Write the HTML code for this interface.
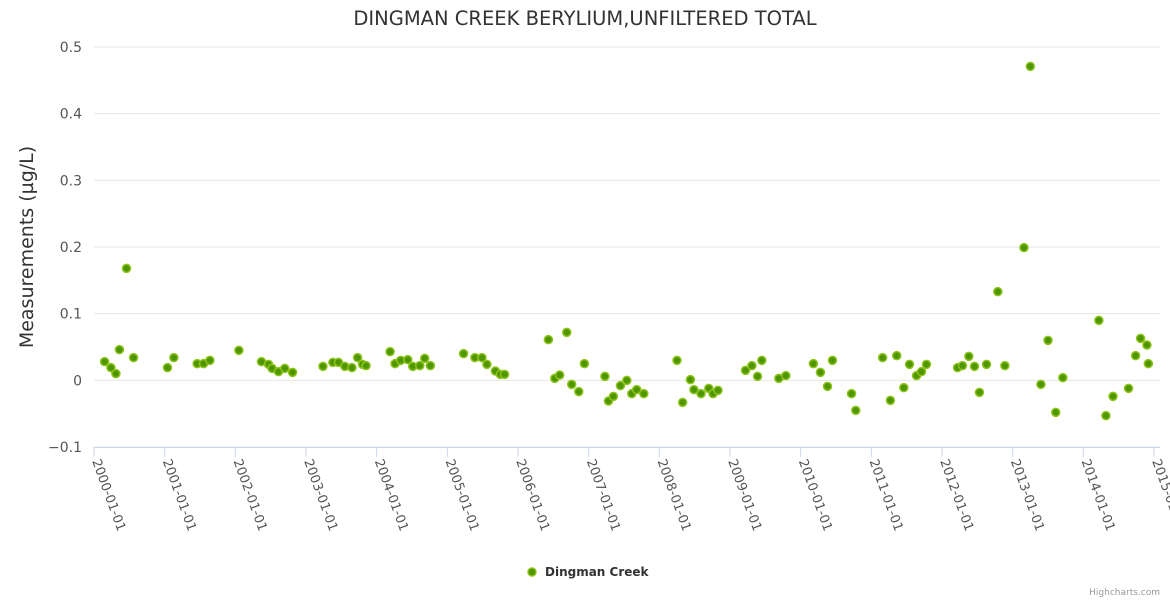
<!DOCTYPE html>
<html><head><meta charset="utf-8"><style>
body{margin:0;background:#fff;font-family:"DejaVu Sans","Liberation Sans",sans-serif;}
svg text{font-family:"DejaVu Sans","Liberation Sans",sans-serif;}
</style></head><body>
<svg id="chart" width="1170" height="600" xmlns="http://www.w3.org/2000/svg">
<text x="585" y="25" text-anchor="middle" font-size="19.5" fill="#333">DINGMAN CREEK BERYLIUM,UNFILTERED TOTAL</text>
<text transform="translate(33,247) rotate(-90)" text-anchor="middle" font-size="19" fill="#333">Measurements (µg/L)</text>
<g id="grid"></g><g id="xaxis"></g><g id="pts"></g>
<g>
<circle cx="532" cy="572" r="4" fill="#4f9600" stroke="#8cc41a" stroke-width="1.5"/>
<text x="545" y="576" font-size="12" font-weight="bold" fill="#333">Dingman Creek</text></g>
<text x="1160" y="595" text-anchor="end" font-size="9" fill="#999">Highcharts.com</text>
</svg>
<script>
const years=[2000.15,2000.24,2000.31,2000.36,2000.46,2000.56,2001.04,2001.13,2001.46,2001.55,2001.64,2002.05,2002.37,2002.47,2002.52,2002.61,2002.70,2002.81,2003.24,2003.38,2003.46,2003.55,2003.65,2003.73,2003.80,2003.85,2004.19,2004.26,2004.34,2004.44,2004.51,2004.61,2004.68,2004.76,2005.23,2005.39,2005.49,2005.56,2005.68,2005.75,2005.81,2006.43,2006.52,2006.59,2006.69,2006.76,2006.86,2006.94,2007.23,2007.28,2007.35,2007.45,2007.54,2007.61,2007.68,2007.78,2008.25,2008.33,2008.44,2008.49,2008.59,2008.70,2008.76,2008.83,2009.22,2009.31,2009.39,2009.45,2009.69,2009.79,2010.18,2010.28,2010.38,2010.45,2010.72,2010.78,2011.16,2011.27,2011.36,2011.46,2011.54,2011.64,2011.71,2011.78,2012.22,2012.29,2012.38,2012.46,2012.53,2012.63,2012.79,2012.89,2013.16,2013.25,2013.40,2013.50,2013.61,2013.71,2014.22,2014.32,2014.42,2014.64,2014.74,2014.81,2014.90,2014.92];
const values=[0.028,0.019,0.010,0.046,0.168,0.034,0.019,0.034,0.025,0.025,0.030,0.045,0.028,0.024,0.018,0.013,0.018,0.012,0.021,0.027,0.027,0.021,0.019,0.034,0.024,0.022,0.043,0.025,0.030,0.031,0.021,0.022,0.033,0.022,0.040,0.034,0.034,0.024,0.014,0.009,0.009,0.061,0.003,0.008,0.072,-0.006,-0.017,0.025,0.006,-0.031,-0.024,-0.008,0.000,-0.020,-0.014,-0.020,0.030,-0.033,0.001,-0.014,-0.020,-0.012,-0.020,-0.015,0.015,0.022,0.006,0.030,0.003,0.007,0.025,0.012,-0.009,0.030,-0.020,-0.045,0.034,-0.030,0.037,-0.011,0.024,0.007,0.013,0.024,0.019,0.022,0.036,0.021,-0.018,0.024,0.133,0.022,0.199,0.471,-0.006,0.060,-0.048,0.004,0.090,-0.053,-0.024,-0.012,0.037,0.063,0.053,0.025];
const yTicks=[-0.1,0,0.1,0.2,0.3,0.4,0.5];
const xTickYears=[2000,2001,2002,2003,2004,2005,2006,2007,2008,2009,2010,2011,2012,2013,2014,2015];
const NS='http://www.w3.org/2000/svg';
const xs=y=>94+(y-2000)*(1060/15);
const ys=v=>447-(v+0.1)*(400/0.6);
function mk(t,a,p){const e=document.createElementNS(NS,t);for(const k in a)e.setAttribute(k,a[k]);p.appendChild(e);return e;}
const grid=document.getElementById('grid');
yTicks.forEach(v=>{
  const l=mk('line',{x1:94,x2:1160,y1:ys(v),y2:ys(v),stroke:'#e6e6e6','stroke-width':1},grid);
  
  
  const t=mk('text',{x:82,y:ys(v)+5,'text-anchor':'end','font-size':14,fill:'#555'},grid);
  t.textContent=v===0?'0':(v<0?'−'+Math.abs(v):String(v));
  
  
});
const xa=document.getElementById('xaxis');
const axl=mk('line',{x1:94,x2:1160,y1:447.5,y2:447.5,stroke:'#ccd6eb'},xa);


xTickYears.forEach(y=>{
  const x=xs(y);
  const tk=mk('line',{x1:x,x2:x,y1:447,y2:457,stroke:'#ccd6eb'},xa);
  
  
  const t=mk('text',{transform:`translate(${x-2},${461}) rotate(70)`,'font-size':13,fill:'#555'},xa);
  t.textContent=y+'-01-01';
  
  
});
const pts=document.getElementById('pts');
years.forEach((y,i)=>{
  const c=mk('circle',{cx:xs(y),cy:ys(values[i]),r:4,fill:'#4f9600',stroke:'#8cc41a','stroke-width':1.5},pts);
  
  
});
</script>
</body></html>
